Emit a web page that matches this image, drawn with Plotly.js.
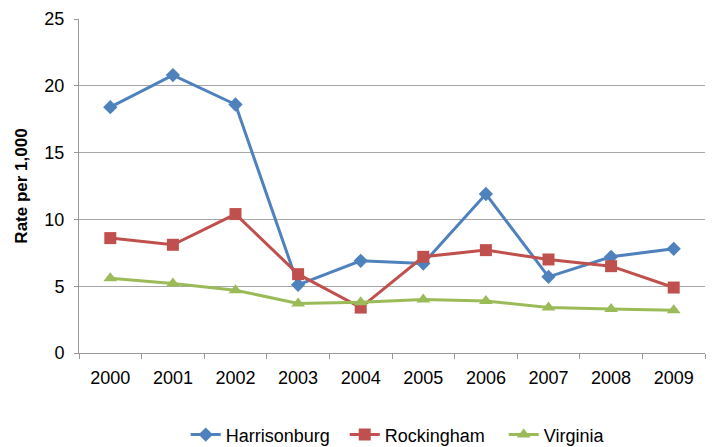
<!DOCTYPE html>
<html>
<head>
<meta charset="utf-8">
<script src="https://cdn.plot.ly/plotly-3.0.1.min.js"></script>
<style>html,body{margin:0;padding:0;background:#fff}#chart{width:716px;height:447px}</style>
</head>
<body>
<div id="chart"></div>
<script>
var years = ["2000","2001","2002","2003","2004","2005","2006","2007","2008","2009"];
var harrisonburg = [18.4, 20.8, 18.6, 5.1, 6.9, 6.7, 11.9, 5.7, 7.2, 7.8];
var rockingham = [8.6, 8.1, 10.4, 5.9, 3.4, 7.2, 7.7, 7.0, 6.5, 4.9];
var virginia = [5.6, 5.2, 4.7, 3.7, 3.8, 4.0, 3.9, 3.4, 3.3, 3.2];
var yTicks = [0, 5, 10, 15, 20, 25];

var font = "Liberation Sans, Arial, Helvetica, sans-serif";
function tr(name, y, color, symbol, size) {
  return {
    x: years, y: y, name: name, type: "scatter", mode: "lines+markers",
    line: {color: color, width: 3},
    marker: {color: color, symbol: symbol, size: size}
  };
}
var data = [
  tr("Harrisonburg", harrisonburg, "#4F81BD", "diamond", 11),
  tr("Rockingham", rockingham, "#C0504D", "square", 12),
  tr("Virginia", virginia, "#9BBB59", "triangle-up", 12)
];
var layout = {
  width: 716, height: 447,
  margin: {l: 79, r: 11, t: 19, b: 94, autoexpand: false},
  paper_bgcolor: "#fff", plot_bgcolor: "#fff",
  font: {family: font, size: 18, color: "#000"},
  showlegend: true,
  legend: {orientation: "h", x: 0.1705, xanchor: "left", y: -0.245, yanchor: "middle",
           font: {family: font, size: 18, color: "#000"}, itemwidth: 30, tracegroupgap: 0,
           entrywidth: 114, entrywidthmode: "pixels"},
  xaxis: {
    type: "category", tickson: "boundaries", ticks: "outside", ticklen: 5,
    tickcolor: "#999", showline: true, linecolor: "#999", linewidth: 1,
    showgrid: false, zeroline: false, ticklabelstandoff: 8,
    range: [-0.5, 9.5], fixedrange: true,
    tickfont: {family: font, size: 18, color: "#000"}
  },
  yaxis: {
    range: [0, 25], tickvals: yTicks, ticktext: yTicks.map(String),
    ticks: "outside", ticklen: 4, tickcolor: "#999",
    showline: true, linecolor: "#999", linewidth: 1,
    showgrid: true, gridcolor: "#a6a6a6", gridwidth: 1, zeroline: false,
    ticklabelstandoff: 6,
    tickfont: {family: font, size: 18, color: "#000"},
    title: {text: "<b>Rate per 1,000</b>", font: {family: font, size: 17, color: "#000"}, standoff: 12}
  }
};
Plotly.newPlot("chart", data, layout, {displayModeBar: false, staticPlot: true});
</script>
</body>
</html>
